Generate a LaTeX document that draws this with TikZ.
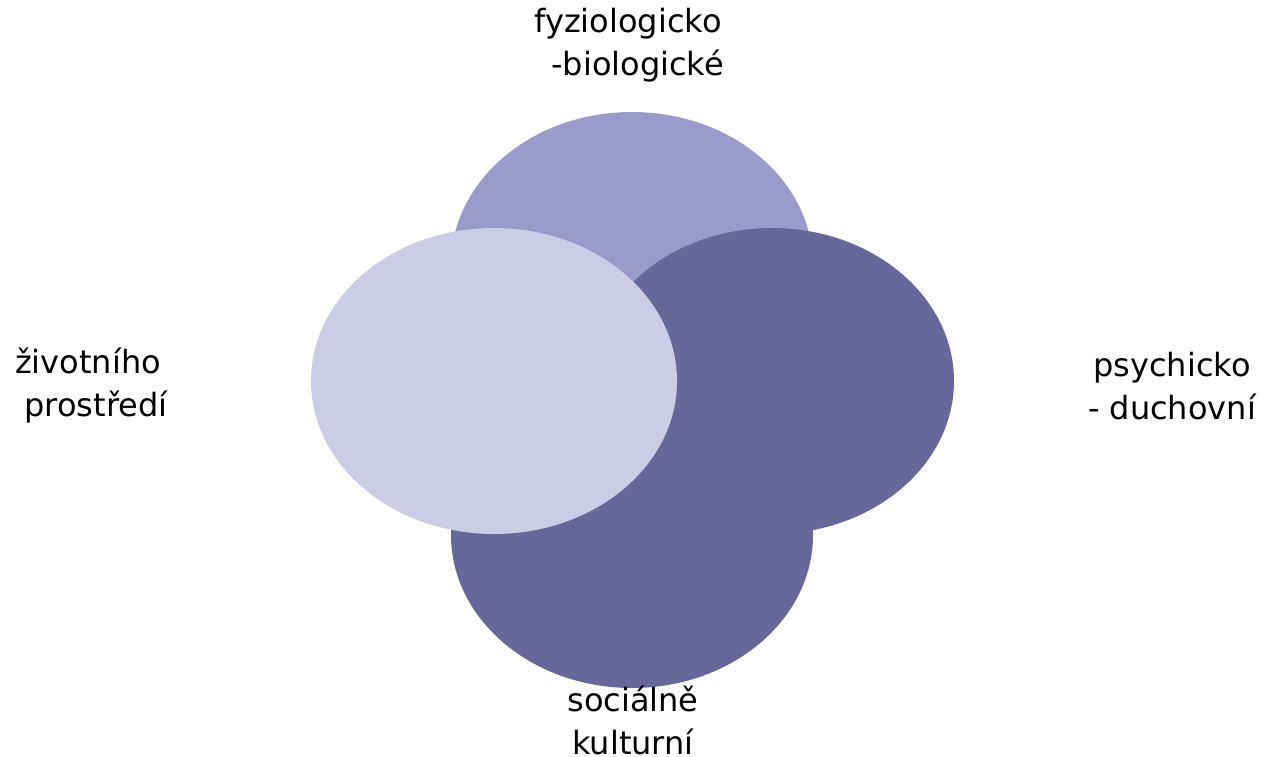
\documentclass[tikz,border=0pt]{standalone}
\usepackage{fontspec}
\setmainfont{DejaVu Sans}
\definecolor{cmid}{RGB}{155,155,203}
\definecolor{cdark}{RGB}{103,103,153}
\definecolor{clight}{RGB}{204,204,230}
\begin{document}
\begin{tikzpicture}[x=1pt,y=-1pt,
  lbl/.style={align=center,font=\fontsize{32}{43}\selectfont,inner sep=0pt}]
\useasboundingbox (0,0) rectangle (1263,756);
\fill[cmid] (632,265) ellipse [x radius=181, y radius=153];
\fill[cdark] (632,535) ellipse [x radius=181, y radius=153];
\fill[cdark] (772,381) ellipse [x radius=182, y radius=153];
\fill[clight] (494,381) ellipse [x radius=183, y radius=153];
\node[lbl] (top) at (628,45) {fyziologicko\\ \hspace{0.6em}-biologické};
\node[lbl] (left) at (88,386) {životního\\ \hspace{0.5em}prostředí};
\node[lbl] (right) at (1172,386) {psychicko\\ - duchovní};
\node[lbl] (bottom) at (633,720) {sociálně\\ kulturní};
\end{tikzpicture}
\end{document}
